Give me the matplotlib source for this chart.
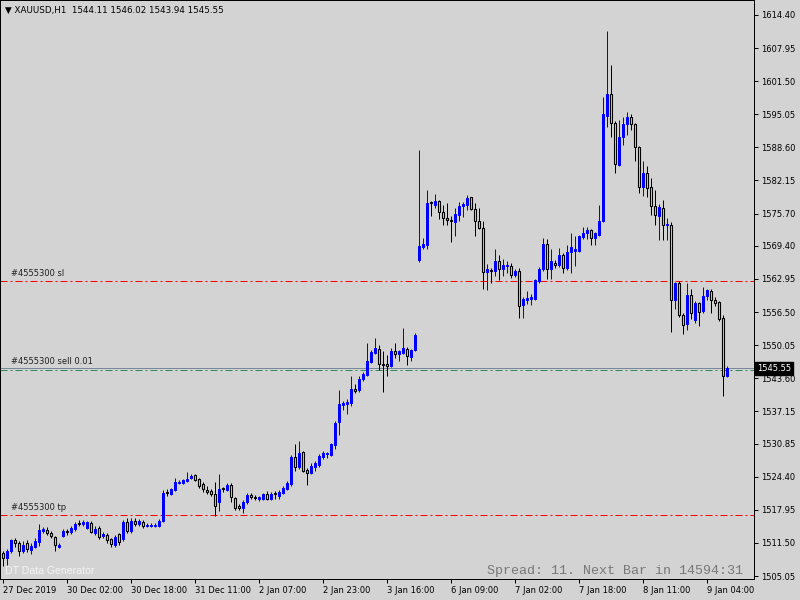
import numpy as np
import matplotlib.pyplot as plt

# XAUUSD H1 bars (open, high, low, close)
opens = [1509.5, 1508.6, 1510.0, 1512.0, 1511.5, 1510.0, 1511.4, 1510.2, 1510.8, 1511.6,
         1513.9, 1514.1, 1513.5, 1512.6, 1510.8, 1512.9, 1513.8, 1513.6, 1514.2, 1515.3,
         1515.2, 1514.5, 1515.4, 1513.4, 1514.5, 1512.9, 1513.0, 1512.2, 1511.1, 1513.2,
         1512.3, 1515.6, 1513.9, 1515.8, 1515.2, 1515.6, 1514.9, 1514.9, 1514.9, 1514.9,
         1515.8, 1521.3, 1521.1, 1521.9, 1523.2, 1523.2, 1523.5, 1524.1, 1524.7, 1523.9,
         1522.9, 1521.9, 1521.6, 1521.0, 1519.4, 1522.1, 1521.9, 1522.8, 1520.2, 1518.7,
         1518.4, 1519.4, 1520.8, 1520.5, 1520.0, 1520.0, 1521.1, 1520.0, 1521.1, 1520.7,
         1521.3, 1522.0, 1522.9, 1528.3, 1526.3, 1529.2, 1525.7, 1525.1, 1526.3, 1526.7,
         1528.3, 1528.8, 1528.7, 1530.5, 1535.0, 1538.3, 1538.6, 1538.8, 1541.6, 1541.3,
         1543.4, 1544.2, 1546.8, 1548.6, 1549.4, 1546.4, 1546.3, 1546.0, 1548.9, 1548.4,
         1548.6, 1549.4, 1547.8, 1549.1, 1566.6, 1569.2, 1569.5, 1577.9, 1577.4, 1578.2,
         1576.0, 1574.8, 1574.4, 1574.0, 1575.5, 1577.1, 1577.4, 1578.9, 1576.6, 1574.3,
         1572.9, 1564.3, 1564.7, 1564.5, 1566.4, 1564.9, 1565.4, 1565.4, 1563.7, 1564.5,
         1557.8, 1558.9, 1559.0, 1559.1, 1562.5, 1564.8, 1569.8, 1564.8, 1566.1, 1565.6,
         1567.7, 1565.0, 1568.2, 1568.4, 1568.5, 1571.1, 1572.0, 1572.4, 1571.0, 1571.6,
         1574.2, 1594.8, 1599.0, 1593.3, 1585.2, 1590.6, 1593.1, 1594.5, 1593.2, 1588.6,
         1580.9, 1583.6, 1580.9, 1577.2, 1575.2, 1576.8, 1573.4, 1573.5, 1558.8, 1562.1,
         1556.0, 1554.1, 1559.9, 1554.9, 1558.2, 1556.7, 1559.6, 1560.7, 1558.9, 1558.4,
         1555.4, 1544.11]
highs = [1510.0, 1510.3, 1512.3, 1512.4, 1511.9, 1511.9, 1512.0, 1511.4, 1512.4, 1515.2,
         1514.6, 1514.7, 1513.9, 1512.9, 1511.5, 1514.3, 1514.3, 1514.9, 1515.5, 1515.9,
         1515.9, 1515.8, 1515.7, 1514.8, 1514.9, 1513.6, 1513.4, 1512.5, 1513.0, 1513.5,
         1516.0, 1516.3, 1516.3, 1516.3, 1516.1, 1516.0, 1515.3, 1515.4, 1515.3, 1516.1,
         1521.9, 1522.1, 1522.3, 1524.2, 1523.8, 1524.0, 1525.4, 1524.9, 1525.0, 1524.2,
         1523.3, 1522.6, 1522.0, 1523.3, 1524.9, 1522.5, 1523.2, 1523.1, 1520.5, 1519.0,
         1519.8, 1521.2, 1521.2, 1520.9, 1520.7, 1521.3, 1521.7, 1521.4, 1521.7, 1521.8,
         1522.6, 1523.5, 1528.6, 1530.7, 1531.4, 1529.4, 1526.2, 1527.0, 1527.4, 1528.8,
         1529.5, 1529.3, 1531.0, 1535.3, 1541.3, 1539.2, 1539.6, 1544.0, 1542.5, 1544.0,
         1544.9, 1550.4, 1549.2, 1551.5, 1550.0, 1548.9, 1548.2, 1549.5, 1550.5, 1549.2,
         1553.4, 1549.7, 1549.4, 1552.4, 1588.1, 1570.9, 1580.2, 1578.1, 1579.5, 1578.4,
         1577.4, 1577.8, 1575.2, 1576.8, 1577.9, 1577.9, 1579.4, 1579.0, 1577.8, 1576.7,
         1574.3, 1565.8, 1565.0, 1568.7, 1567.7, 1566.9, 1566.4, 1566.1, 1564.8, 1565.0,
         1559.5, 1560.6, 1560.1, 1563.0, 1565.2, 1570.9, 1570.7, 1568.8, 1566.7, 1569.0,
         1568.0, 1569.6, 1571.9, 1571.3, 1571.6, 1573.1, 1573.1, 1572.6, 1572.2, 1577.4,
         1598.5, 1611.3, 1604.7, 1593.8, 1593.9, 1594.5, 1595.4, 1595.1, 1593.4, 1588.8,
         1585.9, 1584.9, 1582.6, 1580.2, 1577.6, 1578.4, 1574.8, 1574.0, 1562.3, 1562.5,
         1556.3, 1562.1, 1560.9, 1558.6, 1558.5, 1561.4, 1561.0, 1560.9, 1559.5, 1558.6,
         1556.0, 1546.02]
lows = [1507.0, 1507.3, 1509.6, 1510.8, 1508.9, 1509.6, 1509.7, 1509.4, 1510.5, 1511.0,
        1513.5, 1513.0, 1512.4, 1510.0, 1510.5, 1512.6, 1513.0, 1513.3, 1513.9, 1514.8,
        1514.9, 1514.3, 1513.4, 1513.0, 1512.2, 1512.4, 1511.5, 1510.8, 1510.8, 1511.2,
        1511.9, 1513.5, 1513.5, 1514.8, 1514.9, 1514.5, 1514.6, 1514.6, 1514.6, 1514.6,
        1515.5, 1520.7, 1520.8, 1521.7, 1523.0, 1522.9, 1523.3, 1523.9, 1523.6, 1522.3,
        1521.5, 1521.0, 1520.6, 1516.8, 1517.8, 1521.5, 1521.6, 1519.4, 1518.0, 1518.0,
        1517.3, 1519.0, 1520.0, 1519.8, 1519.7, 1519.8, 1519.8, 1519.8, 1520.0, 1520.1,
        1521.0, 1521.8, 1522.6, 1525.6, 1525.9, 1525.3, 1522.8, 1524.9, 1525.6, 1526.4,
        1527.9, 1528.0, 1528.5, 1529.9, 1532.5, 1537.5, 1536.6, 1538.2, 1540.8, 1541.0,
        1543.1, 1544.0, 1546.5, 1548.3, 1545.3, 1540.9, 1544.0, 1545.7, 1547.6, 1547.0,
        1548.3, 1546.1, 1547.0, 1548.9, 1566.2, 1568.8, 1568.7, 1575.2, 1576.7, 1574.7,
        1573.4, 1573.5, 1570.1, 1571.3, 1574.2, 1575.0, 1576.3, 1576.3, 1571.4, 1572.7,
        1560.9, 1560.8, 1562.2, 1563.6, 1562.8, 1563.5, 1564.1, 1563.2, 1563.3, 1555.4,
        1555.4, 1558.0, 1557.8, 1558.8, 1562.2, 1564.5, 1563.0, 1563.0, 1565.0, 1565.3,
        1564.1, 1564.7, 1564.1, 1565.4, 1568.3, 1570.8, 1570.8, 1569.5, 1569.6, 1571.3,
        1574.0, 1592.5, 1590.6, 1583.6, 1584.9, 1589.1, 1591.1, 1591.9, 1585.9, 1579.8,
        1579.1, 1578.9, 1575.4, 1573.5, 1570.6, 1570.6, 1570.6, 1552.6, 1557.1, 1555.5,
        1552.3, 1553.1, 1555.1, 1554.4, 1553.8, 1556.4, 1558.8, 1556.4, 1557.7, 1554.8,
        1540.2, 1543.94]
closes = [1508.6, 1510.0, 1512.0, 1511.5, 1510.0, 1511.2, 1510.3, 1511.0, 1511.9, 1514.0,
          1514.2, 1513.4, 1512.8, 1511.1, 1511.1, 1513.9, 1513.6, 1514.5, 1515.2, 1515.2,
          1515.6, 1515.5, 1513.7, 1514.3, 1512.6, 1513.2, 1512.1, 1511.3, 1512.7, 1511.6,
          1515.6, 1513.9, 1515.8, 1515.2, 1515.8, 1514.8, 1515.0, 1515.1, 1515.0, 1515.8,
          1521.3, 1521.2, 1522.0, 1523.4, 1523.4, 1523.8, 1523.9, 1524.6, 1523.8, 1522.6,
          1522.0, 1521.5, 1521.0, 1518.7, 1522.1, 1522.0, 1522.8, 1520.4, 1518.4, 1518.4,
          1519.4, 1520.8, 1520.4, 1520.2, 1520.4, 1521.0, 1520.0, 1521.1, 1521.0, 1521.5,
          1522.2, 1523.2, 1528.3, 1526.3, 1529.1, 1525.6, 1525.2, 1526.5, 1527.0, 1528.5,
          1529.1, 1529.0, 1530.7, 1534.9, 1538.5, 1538.7, 1539.0, 1541.6, 1541.1, 1543.5,
          1544.4, 1546.9, 1548.7, 1549.5, 1546.4, 1546.2, 1546.0, 1548.9, 1548.4, 1548.9,
          1549.5, 1547.9, 1549.2, 1552.1, 1569.3, 1569.7, 1577.8, 1577.7, 1578.2, 1576.0,
          1574.8, 1574.4, 1574.3, 1575.6, 1577.2, 1577.6, 1578.7, 1576.6, 1574.2, 1572.8,
          1564.3, 1564.8, 1564.6, 1566.4, 1564.8, 1565.6, 1565.7, 1563.7, 1564.5, 1557.7,
          1559.1, 1559.3, 1559.4, 1562.7, 1564.8, 1569.8, 1564.9, 1566.4, 1565.6, 1567.7,
          1565.0, 1568.3, 1569.1, 1568.7, 1571.3, 1572.0, 1572.4, 1571.0, 1571.9, 1574.2,
          1595.1, 1599.0, 1593.3, 1585.3, 1590.7, 1593.2, 1594.5, 1593.2, 1588.6, 1580.9,
          1583.6, 1580.7, 1577.1, 1575.4, 1576.9, 1573.5, 1573.6, 1558.9, 1562.1, 1556.0,
          1554.0, 1559.9, 1556.4, 1558.2, 1556.5, 1559.7, 1560.8, 1558.8, 1558.3, 1555.1,
          1544.0, 1545.55]

sl_price = 1562.6
sell_price = 1545.3
tp_price = 1516.9
bid_price = 1545.55

price_ticks = [1614.40, 1607.95, 1601.50, 1595.05, 1588.60, 1582.15, 1575.70, 1569.40,
               1562.95, 1556.50, 1550.05, 1543.60, 1537.15, 1530.85, 1524.40, 1517.95,
               1511.50, 1505.05]
time_labels = ["27 Dec 2019", "30 Dec 02:00", "30 Dec 18:00", "31 Dec 11:00", "2 Jan 07:00",
               "2 Jan 23:00", "3 Jan 16:00", "6 Jan 09:00", "7 Jan 02:00", "7 Jan 18:00",
               "8 Jan 11:00", "9 Jan 04:00"]

bg = "#d3d3d3"
font = "DejaVu Sans"
fs = 6.0
px = 0.72  # one pixel in points

o = np.array(opens)
h = np.array(highs)
l = np.array(lows)
c = np.array(closes)
x = np.arange(len(o))
bull = c >= o

fig = plt.figure(figsize=(8, 6), dpi=100, facecolor=bg)
ax = fig.add_axes([0.0, 0.035, 0.9425, 0.965], facecolor=bg)

# wicks
ax.vlines(x[bull], l[bull], h[bull], color="#0000ff", lw=px, zorder=2)
ax.vlines(x[~bull], l[~bull], h[~bull], color="black", lw=px, zorder=2)

# bodies
bottom = np.minimum(o, c)
height = np.maximum(np.abs(c - o), 0.15)
ax.bar(x[bull], height[bull], bottom=bottom[bull], width=0.56, color="#0000ff",
       edgecolor="#0000ff", lw=px, zorder=3)
ax.bar(x[~bull], height[~bull], bottom=bottom[~bull], width=0.56, color=bg,
       edgecolor="black", lw=px * 1.1, zorder=3)

# order lines
dd = (0, (7, 3, 2, 3))
ax.axhline(sl_price, color="#ff0000", lw=px, ls=dd, zorder=1)
ax.axhline(tp_price, color="#ff0000", lw=px, ls=dd, zorder=1)
ax.axhline(sell_price, color="#2e8b57", lw=px, ls=dd, zorder=1)
ax.axhline(bid_price, color="#778899", lw=px, zorder=1)

ax.text(2, sl_price + 0.6, "#4555300 sl", fontsize=fs, family=font, color="#202020", va="bottom")
ax.text(2, sell_price + 0.6, "#4555300 sell 0.01", fontsize=fs, family=font, color="#202020", va="bottom")
ax.text(2, tp_price + 0.6, "#4555300 tp", fontsize=fs, family=font, color="#202020", va="bottom")

ax.set_xlim(-0.825, 187.7)
ax.set_ylim(1504.48, 1617.32)

ax.yaxis.tick_right()
ax.set_yticks(price_ticks)
ax.set_yticklabels([f"{p:.2f}" for p in price_ticks])
ax.set_xticks(np.arange(len(time_labels)) * 16)
ax.set_xticklabels(time_labels)
ax.tick_params(axis="y", direction="out", length=3, width=px, pad=2, labelsize=fs, colors="black")
ax.tick_params(axis="x", direction="out", length=3, width=px, pad=2, labelsize=fs, colors="black")
for t in ax.get_xticklabels():
    t.set_ha("left")
    t.set_family(font)
for t in ax.get_yticklabels():
    t.set_family(font)
for s in ax.spines.values():
    s.set_color("black")
    s.set_linewidth(px)

# current price tag
ax.text(1.0035, bid_price, f"{bid_price:.2f}", transform=ax.get_yaxis_transform(),
        fontsize=fs, family=font, color="white", va="center", ha="left",
        bbox=dict(boxstyle="square,pad=0.25", fc="black", ec="black"), zorder=5)

fig.text(5 / 800, 1 - 10 / 600, "\u25bc XAUUSD,H1  1544.11 1546.02 1543.94 1545.55",
         fontsize=6.3, family=font, color="black", va="center")
fig.text(5 / 800, 1 - 571 / 600, "DT Data Generator", fontsize=7.6,
         family="Liberation Sans", color="#f4f4f4", va="center")
fig.text(743 / 800, 1 - 571 / 600, "Spread: 11. Next Bar in 14594:31", fontsize=9.6,
         family="Liberation Mono", color="#787878", va="center", ha="right")

fig.savefig("out.png", dpi=100, facecolor=bg)
